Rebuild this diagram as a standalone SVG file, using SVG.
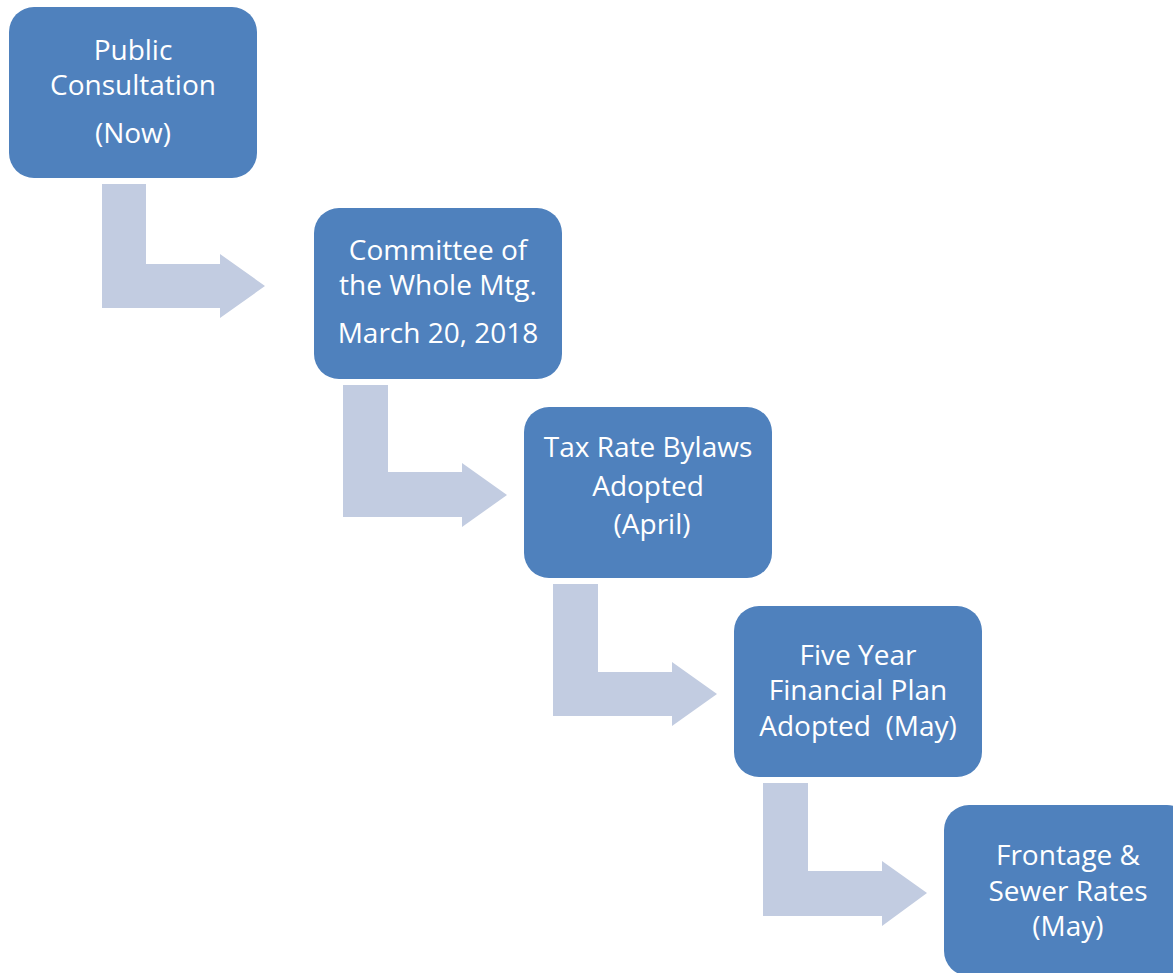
<svg xmlns="http://www.w3.org/2000/svg" width="1173" height="973" viewBox="0 0 1173 973">
  <style>
    .box { fill: #4F81BD; }
    .step { fill: #C2CCE1; }
    .label { font-family: "Open Sans", "Liberation Sans", sans-serif; font-size: 28px; fill: #FFFFFF; text-anchor: middle; }
  </style>
  <rect width="1173" height="973" fill="#FFFFFF"/>

  <!-- bent arrows leading from each stage to the next -->
  <g id="connectors">
    <path class="step" d="M102,184 H146 V264 H220 V254 L265,286 L220,318 V308 H102 Z"/>
    <path class="step" d="M343,385 H388 V472 H462 V463 L507,495 L462,527 V517 H343 Z"/>
    <path class="step" d="M553,584 H598 V672 H672 V662 L717,694 L672,726 V716 H553 Z"/>
    <path class="step" d="M763,783 H808 V871 H882 V861 L927,893 L882,926 V916 H763 Z"/>
  </g>

  <g id="public-consultation">
    <rect class="box" x="9" y="7" width="248" height="171" rx="25"/>
    <text class="label" x="133" y="60">Public</text>
    <text class="label" x="133" y="95">Consultation</text>
    <text class="label" x="133" y="143">(Now)</text>
  </g>

  <g id="committee-meeting">
    <rect class="box" x="314" y="208" width="248" height="171" rx="25"/>
    <text class="label" x="438" y="260">Committee of</text>
    <text class="label" x="438" y="295">the Whole Mtg.</text>
    <text class="label" x="438" y="343">March 20, 2018</text>
  </g>

  <g id="tax-rate-bylaws">
    <rect class="box" x="524" y="407" width="248" height="171" rx="25"/>
    <text class="label" x="648" y="457">Tax Rate Bylaws</text>
    <text class="label" x="648" y="496">Adopted</text>
    <text class="label" x="652" y="534">(April)</text>
  </g>

  <g id="financial-plan">
    <rect class="box" x="734" y="606" width="248" height="171" rx="25"/>
    <text class="label" x="858" y="665">Five Year</text>
    <text class="label" x="858" y="700">Financial Plan</text>
    <text class="label" x="858" y="736" xml:space="preserve">Adopted  (May)</text>
  </g>

  <g id="frontage-sewer-rates">
    <rect class="box" x="944" y="805" width="248" height="171" rx="25"/>
    <text class="label" x="1068" y="865">Frontage &amp;</text>
    <text class="label" x="1068" y="901">Sewer Rates</text>
    <text class="label" x="1068" y="936">(May)</text>
  </g>
</svg>
